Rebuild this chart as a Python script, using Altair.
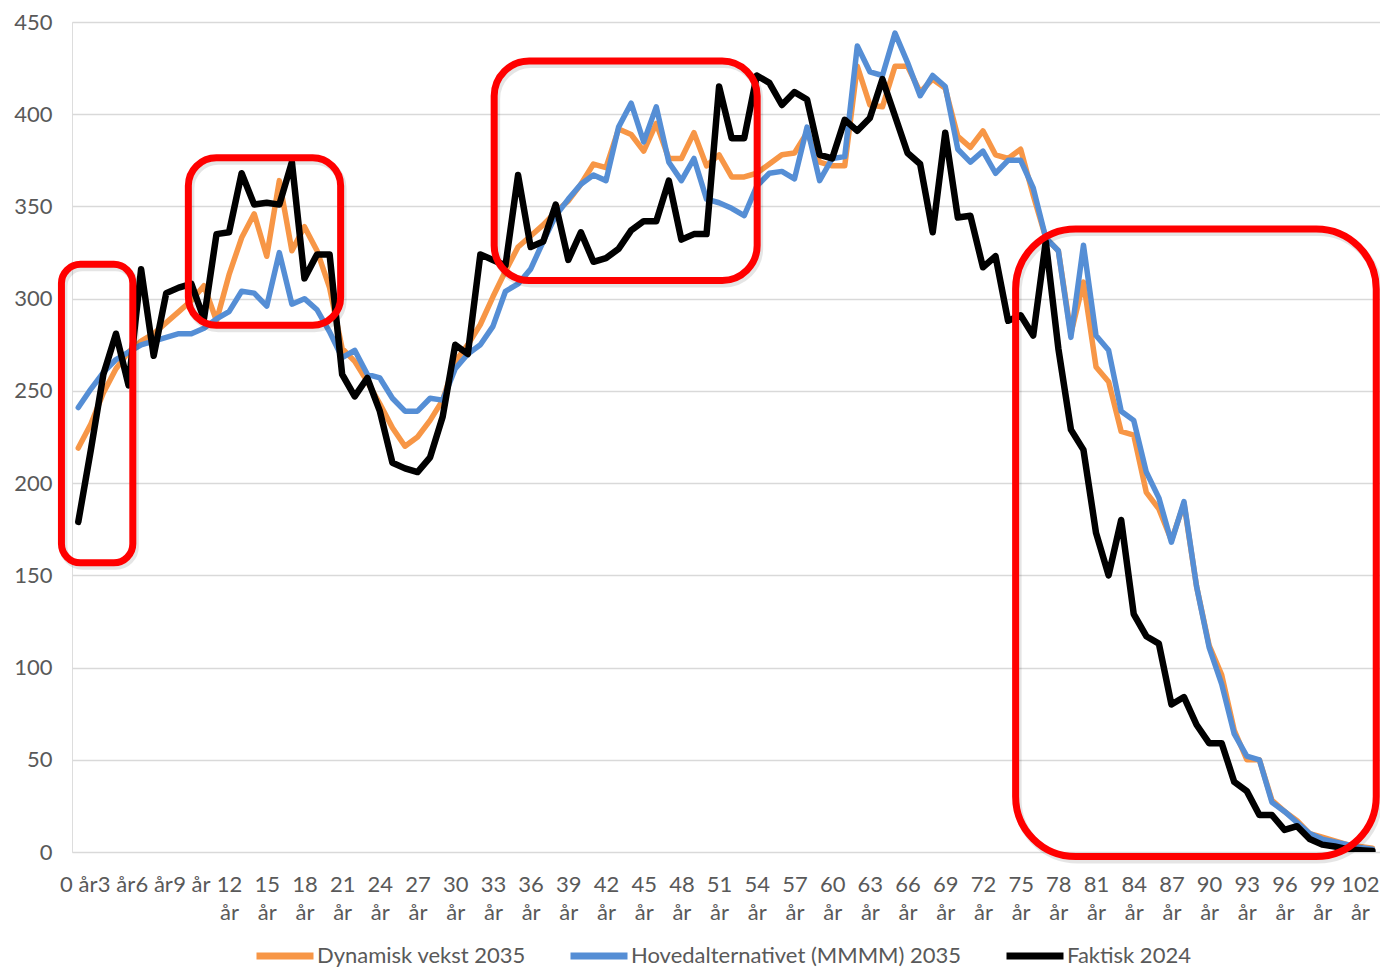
import altair as alt
import pandas as pd

ages = list(range(104))

dynamisk = [219, 232, 249, 262, 271, 277, 281, 287, 293, 299,
            307, 288, 313, 333, 346, 323, 364, 326, 339, 326,
            306, 273, 266, 255, 243, 230, 220, 225, 234, 245,
            266, 275, 286, 301, 315, 328, 334, 340, 347, 353,
            362, 373, 371, 392, 389, 380, 395, 376, 376, 390,
            372, 378, 366, 366, 368, 373, 378, 379, 390, 374,
            372, 372, 426, 405, 404, 426, 426, 412, 419, 414,
            388, 382, 391, 378, 376, 381, 356, 333, 326, 281,
            309, 263, 255, 228, 226, 195, 186, 169, 189, 144,
            112, 96, 66, 50, 50, 28, 22, 17, 10, 8,
            6, 4, 3, 2]

hoved = [241, 251, 260, 267, 271, 275, 277, 279, 281, 281,
         284, 289, 293, 304, 303, 296, 325, 297, 300, 294,
         282, 268, 272, 259, 257, 246, 239, 239, 246, 245,
         262, 270, 275, 285, 304, 308, 316, 331, 345, 354,
         362, 367, 364, 393, 406, 385, 404, 374, 364, 376,
         354, 352, 349, 345, 361, 368, 369, 365, 393, 364,
         376, 377, 437, 423, 421, 444, 428, 410, 421, 415,
         381, 374, 380, 368, 375, 375, 360, 333, 326, 279,
         329, 280, 272, 239, 234, 206, 192, 168, 190, 144,
         111, 91, 64, 52, 50, 27, 22, 16, 10, 7,
         5.5, 4, 2.5, 1.5]

faktisk = [179, 218, 259, 281, 253, 316, 269, 303, 306, 308,
           289, 335, 336, 368, 351, 352, 351, 374, 311, 324,
           324, 259, 247, 257, 239, 211, 208, 206, 214, 236,
           275, 270, 324, 321, 318, 367, 328, 331, 351, 321,
           336, 320, 322, 327, 337, 342, 342, 364, 332, 335,
           335, 415, 387, 387, 421, 417, 405, 412, 408, 378,
           376, 397, 391, 398, 419, 399, 379, 373, 336, 390,
           344, 345, 317, 323, 288, 291, 280, 331, 273, 229,
           218, 173, 150, 180, 129, 117, 113, 80, 84, 69,
           59, 59, 38, 33, 20, 20, 12, 14, 7, 4,
           3, 1.5, 1, 0.5]

series_names = ["Dynamisk vekst 2035", "Hovedalternativet (MMMM) 2035", "Faktisk 2024"]
series_colors = ["#F79646", "#558ED5", "#000000"]
series_values = [dynamisk, hoved, faktisk]

# annotation boxes (data units: age, value)
box_x1 = [-1.34, 8.76, 33.1, 74.6]
box_x2 = [4.34, 20.88, 54.03, 103.3]
box_y1 = [318.6, 376.4, 428.9, 337.8]
box_y2 = [156.8, 285.6, 309.9, -2.5]
box_radius = [19, 28, 35, 60]

x_tick_values = list(range(0, 103, 3))
y_tick_values = list(range(0, 451, 50))

FONT = "Lato"
GREY = "#595959"

x_scale = alt.Scale(domain=[-0.5, 103.6], nice=False, zero=False)
y_scale = alt.Scale(domain=[0, 450], nice=False)

x_axis = alt.Axis(values=x_tick_values, title=None, grid=False, domain=False,
                  ticks=False, labelAngle=0, labelOverlap=False, labelFlush=False,
                  labelBound=False, labelPadding=22, labelLineHeight=28,
                  labelFontSize=22, labelColor=GREY, labelFont=FONT,
                  labelExpr="datum.value >= 12 ? [datum.label, 'år'] : datum.label + ' år'")
y_axis = alt.Axis(values=y_tick_values, title=None, grid=True, gridColor="#D9D9D9",
                  gridWidth=1.3, domain=False, ticks=False, labelPadding=20,
                  labelFontSize=22, labelColor=GREY, labelFont=FONT)

color_scale = alt.Scale(domain=series_names, range=series_colors)

layers = []
widths = [5.5, 5.5, 6.5]
for name, vals, w in zip(series_names, series_values, widths):
    d = pd.DataFrame({"age": ages, "value": vals, "series": name})
    layers.append(
        alt.Chart(d).mark_line(strokeWidth=w, strokeJoin="round", strokeCap="round", clip=True)
        .encode(x=alt.X("age:Q", scale=x_scale, axis=x_axis),
                y=alt.Y("value:Q", scale=y_scale, axis=y_axis),
                color=alt.Color("series:N", scale=color_scale,
                                legend=alt.Legend(title=None, orient="none", direction="horizontal",
                                                  legendX=181, legendY=902,
                                                  symbolType="stroke", symbolStrokeWidth=7,
                                                  symbolSize=3249, labelOffset=0, labelLimit=0,
                                                  columnPadding=30, labelFontSize=22,
                                                  labelColor=GREY, labelFont=FONT)))
    )

boxes = pd.DataFrame({"x1": box_x1, "x2": box_x2, "y1": box_y1, "y2": box_y2,
                      "id": list(range(len(box_x1)))})
for k, r in enumerate(box_radius):
    b = alt.Chart(boxes).transform_filter(alt.datum.id == k)
    enc = dict(x=alt.X("x1:Q", scale=x_scale, axis=x_axis), x2="x2:Q",
               y=alt.Y("y1:Q", scale=y_scale, axis=y_axis), y2="y2:Q")
    layers.append(
        b.mark_rect(filled=False, color="#000000", strokeWidth=8, strokeOpacity=0.10,
                    cornerRadius=r, xOffset=2, x2Offset=2, yOffset=3, y2Offset=3)
        .encode(**enc)
    )
    layers.append(
        b.mark_rect(filled=False, color="#FF0000", strokeWidth=7, cornerRadius=r)
        .encode(**enc)
    )

chart = alt.layer(*layers).properties(
    width=1308, height=830,
    autosize=alt.AutoSizeParams(type="none"),
    padding={"left": 64, "top": 14, "right": 0, "bottom": 118},
).configure_view(stroke=None).configure(font=FONT)

chart.save("out.html", embed_options={"renderer": "svg", "actions": False})
